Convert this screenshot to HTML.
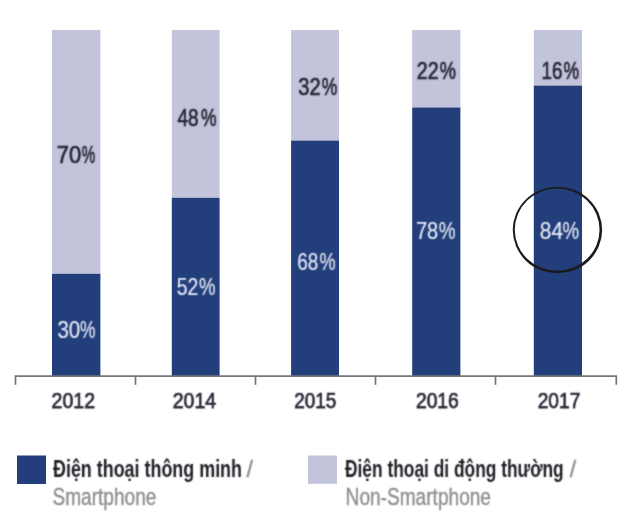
<!DOCTYPE html>
<html lang="vi"><head><meta charset="utf-8"><title>Smartphone / Non-Smartphone</title>
<style>
html,body{margin:0;padding:0;background:#fff;}
body{width:640px;height:523px;overflow:hidden;}
svg{display:block;font-family:"Liberation Sans",sans-serif;}
.d{fill:#272534;stroke:#272534;stroke-width:.7;}
.w{fill:#e9ecf6;stroke:#e9ecf6;stroke-width:.15;}
.y{fill:#2a2836;stroke:#2a2836;stroke-width:.75;}
.lb{fill:#1f1f25;font-weight:bold;}
.lg{fill:#8c8c91;stroke:#8c8c91;stroke-width:.35;font-weight:normal;}
</style></head><body>
<svg width="640" height="523" viewBox="0 0 640 523">
<defs><filter id="soft" x="0" y="0" width="640" height="523" filterUnits="userSpaceOnUse"><feConvolveMatrix order="3" kernelMatrix="1 2 1 2 8 2 1 2 1" divisor="20" edgeMode="duplicate"/></filter></defs>
<rect width="640" height="523" fill="#fff"/>
<rect x="52.0" y="30.0" width="48.4" height="243.8" fill="#c2c4dc"/>
<rect x="52.0" y="273.8" width="48.4" height="102.2" fill="#223e7b"/>
<rect x="171.8" y="30.0" width="47.8" height="167.8" fill="#c2c4dc"/>
<rect x="171.8" y="197.8" width="47.8" height="178.2" fill="#223e7b"/>
<rect x="291.1" y="30.0" width="47.9" height="110.6" fill="#c2c4dc"/>
<rect x="291.1" y="140.6" width="47.9" height="235.4" fill="#223e7b"/>
<rect x="412.2" y="30.0" width="48.2" height="77.5" fill="#c2c4dc"/>
<rect x="412.2" y="107.5" width="48.2" height="268.5" fill="#223e7b"/>
<rect x="533.8" y="30.0" width="48.2" height="55.6" fill="#c2c4dc"/>
<rect x="533.8" y="85.6" width="48.2" height="290.4" fill="#223e7b"/>
<path d="M15.5 384.8V376.2H616.3V384.8" fill="none" stroke="#767676" stroke-width="1.7"/>
<path d="M135.5 376.2V384.8" stroke="#767676" stroke-width="1.7"/>
<path d="M255.5 376.2V384.8" stroke="#767676" stroke-width="1.7"/>
<path d="M375.5 376.2V384.8" stroke="#767676" stroke-width="1.7"/>
<path d="M495.5 376.2V384.8" stroke="#767676" stroke-width="1.7"/>
<g filter="url(#soft)">
<text class="d" y="162.8" font-size="24.5"><tspan x="56.73" textLength="24.38" lengthAdjust="spacingAndGlyphs">70</tspan><tspan x="81.71" textLength="13.48" lengthAdjust="spacingAndGlyphs">%</tspan></text>
<text class="w" y="337.7" font-size="24.5"><tspan x="57.40" textLength="22.73" lengthAdjust="spacingAndGlyphs">30</tspan><tspan x="80.05" textLength="15.49" lengthAdjust="spacingAndGlyphs">%</tspan></text>
<text class="d" y="126.0" font-size="24.5"><tspan x="177.41" textLength="21.16" lengthAdjust="spacingAndGlyphs">48</tspan><tspan x="200.93" textLength="15.55" lengthAdjust="spacingAndGlyphs">%</tspan></text>
<text class="w" y="294.7" font-size="24.5"><tspan x="176.80" textLength="21.60" lengthAdjust="spacingAndGlyphs">52</tspan><tspan x="199.11" textLength="16.47" lengthAdjust="spacingAndGlyphs">%</tspan></text>
<text class="d" y="95.0" font-size="24.5"><tspan x="298.28" textLength="22.38" lengthAdjust="spacingAndGlyphs">32</tspan><tspan x="321.63" textLength="15.55" lengthAdjust="spacingAndGlyphs">%</tspan></text>
<text class="w" y="270.3" font-size="24.5"><tspan x="297.21" textLength="21.03" lengthAdjust="spacingAndGlyphs">68</tspan><tspan x="319.43" textLength="16.14" lengthAdjust="spacingAndGlyphs">%</tspan></text>
<text class="d" y="79.0" font-size="24.5"><tspan x="416.86" textLength="21.88" lengthAdjust="spacingAndGlyphs">22</tspan><tspan x="439.70" textLength="16.20" lengthAdjust="spacingAndGlyphs">%</tspan></text>
<text class="w" y="239.3" font-size="24.5"><tspan x="415.94" textLength="22.35" lengthAdjust="spacingAndGlyphs">78</tspan><tspan x="438.80" textLength="16.80" lengthAdjust="spacingAndGlyphs">%</tspan></text>
<text class="d" y="78.5" font-size="24.5"><tspan x="541.41" textLength="20.96" lengthAdjust="spacingAndGlyphs">16</tspan><tspan x="563.43" textLength="15.55" lengthAdjust="spacingAndGlyphs">%</tspan></text>
<text class="w" y="239.3" font-size="24.5"><tspan x="539.77" textLength="23.27" lengthAdjust="spacingAndGlyphs">84</tspan><tspan x="562.51" textLength="16.58" lengthAdjust="spacingAndGlyphs">%</tspan></text>
<text class="y" x="51.59" y="407.9" font-size="22.5" textLength="43.41" lengthAdjust="spacingAndGlyphs">2012</text>
<text class="y" x="172.69" y="407.9" font-size="22.5" textLength="43.40" lengthAdjust="spacingAndGlyphs">2014</text>
<text class="y" x="294.22" y="407.9" font-size="22.5" textLength="42.10" lengthAdjust="spacingAndGlyphs">2015</text>
<text class="y" x="415.90" y="407.9" font-size="22.5" textLength="42.97" lengthAdjust="spacingAndGlyphs">2016</text>
<text class="y" x="537.71" y="407.9" font-size="22.5" textLength="42.58" lengthAdjust="spacingAndGlyphs">2017</text>
</g>
<path fill="#1b1b1d" fill-rule="evenodd" d="M512.75 230.05A44.7 43.3 0 1 1 602.15 230.05A44.7 43.3 0 1 1 512.75 230.05ZM514.75 229.65A42.4 41.1 0 1 1 599.55 229.65A42.4 41.1 0 1 1 514.75 229.65Z"/>
<rect x="17" y="455.5" width="29" height="28.5" fill="#223e7b"/>
<rect x="308" y="455.5" width="29" height="28.3" fill="#c2c4dc"/>
<g filter="url(#soft)">
<text class="lb" y="477.4" font-size="24.5"><tspan x="53" textLength="189.0" lengthAdjust="spacingAndGlyphs">Điện thoại thông minh</tspan><tspan class="lg" x="239.90" textLength="13.00" lengthAdjust="spacingAndGlyphs"> /</tspan></text>
<text class="lg" x="52.5" y="504.5" font-size="24.5" textLength="103.9" lengthAdjust="spacingAndGlyphs">Smartphone</text>
<text class="lb" y="477.4" font-size="24.5"><tspan x="345" textLength="218.7" lengthAdjust="spacingAndGlyphs">Điện thoại di động thường</tspan><tspan class="lg" x="563.30" textLength="12.80" lengthAdjust="spacingAndGlyphs"> /</tspan></text>
<text class="lg" x="345.6" y="504.5" font-size="24.5" textLength="145.4" lengthAdjust="spacingAndGlyphs">Non-Smartphone</text>
</g>
</svg></body></html>
